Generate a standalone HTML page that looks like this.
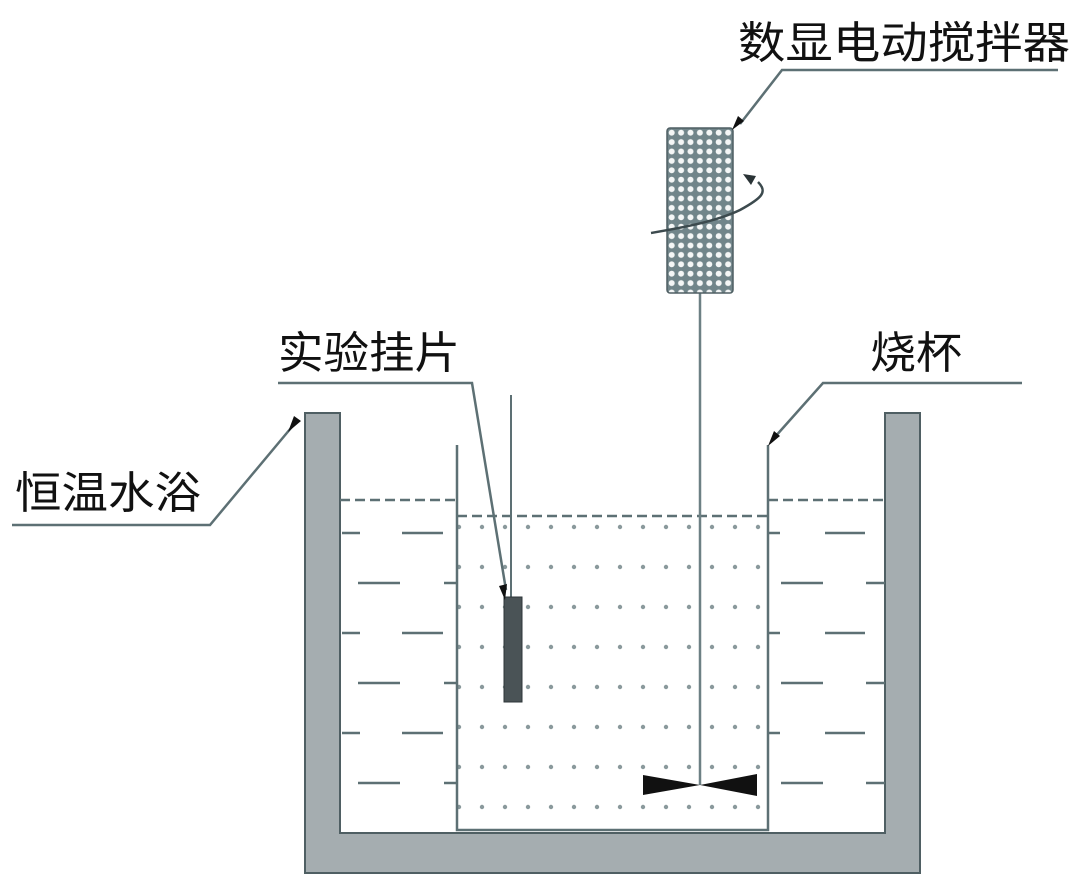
<!DOCTYPE html>
<html><head><meta charset="utf-8"><style>
html,body{margin:0;padding:0;background:#fff;}
svg{display:block;}
text{font-family:"Liberation Sans","Noto Sans CJK SC",sans-serif;font-size:44px;fill:#111;}
</style></head><body>
<svg width="1080" height="888" viewBox="0 0 1080 888">
<defs>
<pattern id="grid" x="667" y="128" width="9.4" height="9.4" patternUnits="userSpaceOnUse">
<rect width="9.4" height="9.4" fill="#71858a"/>
<circle cx="4.7" cy="4.7" r="3" fill="#f4f6f6"/>
</pattern>
</defs>
<path d="M305 413 H340 V833 H885 V413 H920 V873 H305 Z" fill="#a5adb0" stroke="#4f5f63" stroke-width="2"/>
<g stroke="#5d7074" stroke-width="2.5" stroke-dasharray="10 5">
<line x1="340" y1="500" x2="457" y2="500"/>
<line x1="768" y1="500" x2="885" y2="500"/>
<line x1="457" y1="516" x2="768" y2="516"/>
</g>
<g stroke="#5d7074" stroke-width="2.5">
<line x1="342" y1="533" x2="360" y2="533"/><line x1="402" y1="533" x2="443" y2="533"/>
<line x1="358" y1="583" x2="400" y2="583"/><line x1="444" y1="583" x2="457" y2="583"/>
<line x1="342" y1="633" x2="360" y2="633"/><line x1="402" y1="633" x2="443" y2="633"/>
<line x1="358" y1="683" x2="400" y2="683"/><line x1="444" y1="683" x2="457" y2="683"/>
<line x1="342" y1="733" x2="360" y2="733"/><line x1="402" y1="733" x2="443" y2="733"/>
<line x1="358" y1="783" x2="400" y2="783"/><line x1="444" y1="783" x2="457" y2="783"/>
<line x1="768" y1="533" x2="780" y2="533"/><line x1="825" y1="533" x2="865" y2="533"/>
<line x1="781" y1="583" x2="823" y2="583"/><line x1="866" y1="583" x2="885" y2="583"/>
<line x1="768" y1="633" x2="780" y2="633"/><line x1="825" y1="633" x2="865" y2="633"/>
<line x1="781" y1="683" x2="823" y2="683"/><line x1="866" y1="683" x2="885" y2="683"/>
<line x1="768" y1="733" x2="780" y2="733"/><line x1="825" y1="733" x2="865" y2="733"/>
<line x1="781" y1="783" x2="823" y2="783"/><line x1="866" y1="783" x2="885" y2="783"/>
</g>
<g fill="#8a999c" id="dots"></g>
<path d="M457 445 V830 H768 V445" fill="none" stroke="#5d7074" stroke-width="2.5"/>
<line x1="511" y1="395" x2="511" y2="597" stroke="#5d7074" stroke-width="2"/>
<rect x="504" y="597" width="18" height="105" fill="#4a5356" stroke="#2e3638" stroke-width="1"/>
<line x1="700" y1="293" x2="700" y2="785" stroke="#6d8084" stroke-width="2.5"/>
<rect x="667" y="128" width="66" height="165" rx="3" fill="url(#grid)" stroke="#4f5f63" stroke-width="1.5"/>
<path d="M651 233 C680 228 715 222 740 210 C762 198 768 192 758 182" fill="none" stroke="#3c4a4e" stroke-width="2.5"/>
<path d="M743 174 l13 2 l-5 9 z" fill="#2a3336"/>
<path d="M643 775 L700 785 L643 795 Z M757 774 L700 785 L757 796 Z" fill="#111"/>
<g fill="none" stroke="#5d7074" stroke-width="2.5">
<polyline points="1058,70 782,70 740,124"/>
<polyline points="278,383 472,383 506,590"/>
<polyline points="1022,383 823,383 774,438"/>
<polyline points="12,525 210,525 296,422"/>
</g>
<g fill="#111">
<path d="M732 130 l6 -14 l6 5 z"/>
<path d="M505 600 l-6 -14 l8 -2 z"/>
<path d="M768 446 l6 -15 l6 5 z"/>
<path d="M288 432 l6 -16 l7 5 z"/>
</g>
<text x="738" y="58" textLength="332" lengthAdjust="spacingAndGlyphs">数显电动搅拌器</text>
<text x="278" y="368" textLength="182" lengthAdjust="spacingAndGlyphs">实验挂片</text>
<text x="870" y="368" textLength="92" lengthAdjust="spacingAndGlyphs">烧杯</text>
<text x="15" y="508" textLength="186" lengthAdjust="spacingAndGlyphs">恒温水浴</text>
</svg>
<script>
(function(){var g=document.getElementById('dots');var ns='http://www.w3.org/2000/svg';
for(var y=527;y<=807;y+=40){for(var x=459;x<768;x+=23){var c=document.createElementNS(ns,'circle');c.setAttribute('cx',x);c.setAttribute('cy',y);c.setAttribute('r',2.2);g.appendChild(c);}}})();
</script>
</body></html>
